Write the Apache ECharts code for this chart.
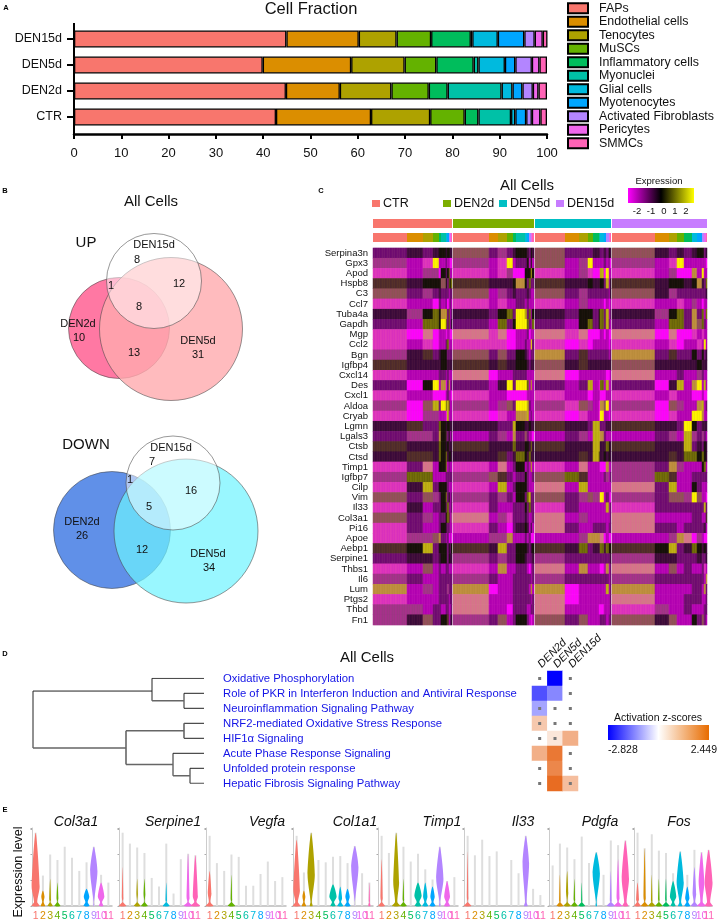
<!DOCTYPE html>
<html lang="en" style="height: 100%">

<head>
  <meta charset="utf-8">
</head>

<body style="height: 100%; margin: 0; background: #fff">
  <div id="container" style="width: 717px; height: 922px"></div>

  <script type="text/javascript" src="https://cdn.jsdelivr.net/npm/echarts@6/dist/echarts.min.js"></script>
  <script type="text/javascript">
    // panel A: cell fractions
    const conditions = ['CTR', 'DEN2d', 'DEN5d', 'DEN15d'];
    const cellTypes = ['FAPs', 'Endothelial cells', 'Tenocytes', 'MuSCs', 'Inflammatory cells', 'Myonuclei',
      'Glial cells', 'Myotenocytes', 'Activated Fibroblasts', 'Pericytes', 'SMMCs'];
    const cellColors = ['#F8766D', '#DB8E00', '#AEA200', '#64B200', '#00BD5C', '#00C1A7',
      '#00BADE', '#00A6FF', '#B385FF', '#EF67EB', '#FF63B6'];
    const conditionColors = ['#F8766D', '#7CAE00', '#00BFC4', '#C77CFF'];
    const fractionCTR = [42.7, 20.1, 12.5, 7.3, 2.9, 6.9, 0.9, 2.3, 1.2, 1.8, 1.4];
    const fractionDEN2d = [44.8, 11.4, 10.9, 7.9, 4, 11.4, 2.3, 2.1, 2.2, 1.2, 1.8];
    const fractionDEN5d = [39.9, 18.7, 11.3, 6.7, 7.9, 1, 5.6, 2.2, 3.5, 1.6, 1.6];
    const fractionDEN15d = [44.9, 15.3, 8, 7.3, 8.4, 0.3, 5.4, 5.6, 2.2, 1.7, 1];

    // panel B: venn circles, [x, y, diameter]
    const vennUp = [[119, 328, 101], [171, 329, 143], [154, 281, 95]];
    const vennDown = [[112, 530, 117], [186, 531, 144], [173, 483, 94]];

    // panel C: heatmap. one letter per cell type block, each letter is a level in heatLevels
    const heatGenes = ['Serpina3n', 'Gpx3', 'Apod', 'Hspb8', 'C3', 'Ccl7', 'Tuba4a', 'Gapdh', 'Mgp', 'Ccl2', 'Bgn',
      'Igfbp4', 'Cxcl14', 'Des', 'Cxcl1', 'Aldoa', 'Cryab', 'Lgmn', 'Lgals3', 'Ctsb', 'Ctsd', 'Timp1', 'Igfbp7',
      'Cilp', 'Vim', 'Il33', 'Col3a1', 'Pi16', 'Apoe', 'Aebp1', 'Serpine1', 'Thbs1', 'Il6', 'Lum', 'Ptgs2', 'Thbd', 'Fn1'];
    const heatLevels = ['m', 'p', 'v', 'd', 'k', 'o', 'u', 'y', 'r', 's', 'a', 'b', 'c', 't'];
    const heatShadesA = ['#F50CF0', '#B000B0', '#6E0A70', '#3A0A3A', '#141008', '#77700A', '#B8A810',
      '#FFF500', '#E03AB8', '#D8708C', '#C09040', '#964E5E', '#4E2A2C', '#A8308C'];
    const heatShadesB = ['#FF00FF', '#BC0CB4', '#7A1A72', '#4A143E', '#1E140E', '#66600A', '#C4B418',
      '#F2E800', '#D62EBE', '#D07C84', '#B88A3A', '#8A5652', '#5A3428', '#983A80'];
    const blocksCTR = [34, 16, 10, 6, 2, 5, 1, 2, 1, 1, 1];
    const blocksDEN2d = [36, 9, 9, 6, 3, 9, 2, 2, 2, 1, 2];
    const blocksDEN5d = [30, 14, 9, 5, 6, 1, 4, 2, 3, 1, 1];
    const blocksDEN15d = [43, 14, 8, 7, 8, 0, 5, 5, 2, 2, 1];
    const heatCTR = ['vdvdkkdkkdd', 'tpryppvppmm', 'rpttmkvkopp', 'cdkkkbkvoko', 'bvtvdvvvpvv', 'rppmvpvmpvp', 'dtkokauvopv',
      'vpookyovopd', 'rmsmppmppmm', 'rprmppvoppp', 'tdcvdkkvvvv', 'cddddkkdddd', 'rpppvvpvppp', 'vmkypamvupv',
      'rppmmmpvppm', 'tmbuvyouopp', 'rmttppmuppp', 'dcvvokdkkdd', 'vttvakcvkpv', 'cdddokdkddd', 'dccdokodkkd',
      'rvspkkopvpp', 'toopppvvvvv', 'rduvkkkvppp', 'bvbtvkovkpv', 'rdpvvkvovpv', 'bvtpvvkocpt', 'rvppvkdvvpp',
      'rttbavpvmpm', 'ckuvkkkvkvk', 'vddvdkkvkdd', 'rpbpvpvvppp', 'tvppvvvvvvv', 'aptpvvvtvvv', 'rpppvvvvpvv',
      'ttpvvpvvppv', 'tdbvvkkcpvd'];
    const heatDEN2d = ['bvtvdkkdvkd', 'tprypvvkpkp', 'rprtmmkkkuk', 'cdddkakvovv', 'bptvdvvdvpp', 'rprppvpvppp', 'dvkovyuvopk',
      'vpovkyyovpo', 'srsmmppvmpp', 'rrrmmpvppyv', 'bvbvvkdvpvv', 'cdcddkkdvdd', 'smppvvvpppp', 'vpdyvyyopup',
      'rppmmmmpppp', 'tptbvyyuvpp', 'rmrppaaupvp', 'ddvvukddkdd', 'pvtpavbvppm', 'cdddodkkdod', 'ddcvdokdodd',
      'rpspvkpvpup', 'tbcvpvkvppv', 'rpupvkkvppp', 'tvtvpkvouvv', 'rvppvvkvovv', 'sptrvvdvppv', 'rvpmvdkdpdp',
      'pttappvpvmm', 'cduvvkkdvdk', 'tvtvvkdvvvd', 'rpappvvpmpv', 'tvppvvvvvpv', 'amppvvvvpup', 'spppvvvvvpv',
      'sppmvvvppvv', 'tvbpvkkvpmp'];
    const heatDEN5d = ['bvvvddvdvkd', 'bptypppvpvm', 'rptrmmumypp', 'cddkddkvupd', 'bvtvvvvvvpd', 'rptppppmpmp', 'dvkkvkovupv',
      'vpkovkovuvp', 'srsmmmpmpmm', 'rmrmpppppmp', 'avcvvvvvvpv', 'bdcdddddddd', 'smppppppmmp', 'vpvupmopupp',
      'rppmppmmppp', 'trbtpmabypp', 'rmrppmyppmp', 'cddvuuvvddd', 'pvtpuuavppp', 'cddduuddokd', 'ddcduodkdkd',
      'rpspppmmapp', 'bocppppvtpv', 'spupppppppp', 'bvtbttypvpm', 'rvppppppupv', 'sptpppppppv', 'svppvvvvpvv',
      'pptaaasmpmm', 'cdovddodokk', 'tvvvvvvvvvd', 'spapppmpapv', 'tvvvvvvvvpv', 'amppppppupv', 'smppppppppv',
      'sppppmmpppv', 'bvbpppvvpvv'];
    const heatDEN15d = ['bdvdvddkkvd', 'tprypvppppm', 'rptmmmapypp', 'cdkkddkadvo', 'bdtvvvvvvvd', 'rpprpptpmpp', 'dtkovvavopo',
      'vpoovvabovp', 'smsmmmrprpp', 'rprmppprpyp', 'avcvvvkvkvd', 'bddddddkddd', 'sppvppptvpp', 'vmduppaypup',
      'rprppmmmpmm', 'tmbtpppaupv', 'rmrppmyyapp', 'cddvyvkvddd', 'pvtpuvtvtvp', 'cdddudvdvkd', 'ddcdodokokd',
      'tvatppppkop', 'tocpppvvvvv', 'svupppkvppp', 'tvbbttybppm', 'rvvvvvvvvuv', 'spppppvvppc', 'svvpvvvvvdp',
      'pptassmtpmm', 'ckuvddokdkd', 'tddvvvvdvvd', 'spbpvvppvrp', 'tvvvvvvvvpa', 'apppppvvpav', 'spppvpvvppv',
      'rtppvvpppvv', 'bdbpppkvbvp'];

    // panel D: pathways and z-scores
    const pathways = ['Oxidative Phosphorylation', 'Role of PKR in Interferon Induction and Antiviral Response',
      'Neuroinflammation Signaling Pathway', 'NRF2-mediated Oxidative Stress Response', 'HIF1α Signaling',
      'Acute Phase Response Signaling', 'Unfolded protein response', 'Hepatic Fibrosis Signaling Pathway'];
    const zDEN2d = [0, -1.94, -1.0, 0.91, 0, 1.33, 0, 0];
    const zDEN5d = [-2.828, -1.33, 0, 0, 0.42, 2.25, 2.0, 2.449];
    const zDEN15d = [0, 0, 0, 0, 1.33, 0, 0, 1.08];
    const zNoData = [[0, 0], [2, 0], [2, 1], [0, 2], [1, 2], [2, 2], [0, 3], [1, 3], [2, 3], [0, 4], [1, 4],
      [2, 5], [0, 6], [2, 6], [0, 7], [2, 7]];
    // dendrogram segments, [height, leaf, height, leaf]
    const dendroThin = [[0, 0.85, 0, 4.65], [0, 0.85, 119, 0.85], [119, 0, 119, 1.5], [119, 0, 171, 0],
      [151, 1, 151, 2], [151, 1, 171, 1], [151, 2, 171, 2], [151, 3, 171, 3], [151, 4, 171, 4], [140, 5, 171, 5],
      [157, 6, 171, 6], [157, 7, 171, 7], [140, 5, 140, 6.5], [157, 6, 157, 7]];
    const dendroThick = [[119, 1.5, 151, 1.5], [0, 4.65, 93, 4.65], [93, 3.5, 93, 5.75], [93, 3.5, 151, 3.5],
      [151, 3, 151, 4], [93, 5.75, 140, 5.75], [140, 6.5, 157, 6.5]];

    // panel E: violins, one [stem, base, bulgeY, bulgeW, bodyTop] per cluster
    const violinNames = ['1', '2', '3', '4', '5', '6', '7', '8', '9', '10', '11'];
    const col3a1 = [[.94, .55, .25, .55, .94], [.39, .3, .12, .22, .2], [.66, .35, .08, .12, .35], [.59, .4, .1, .12, .3],
      [.76, 0, 0, 0, 0], [.62, 0, 0, 0, 0], [.45, 0, 0, 0, 0], [.56, .4, .12, .38, .22], [.76, .06, .45, .5, .76],
      [.4, .3, .12, .45, .3], [.3, 0, 0, 0, 0]];
    const serpine1 = [[.94, .5, .1, .1, .5], [.8, 0, 0, 0, 0], [.75, .45, .15, .1, .35], [.68, .45, .15, .12, .35],
      [.36, 0, 0, 0, 0], [.25, 0, 0, 0, 0], [.8, .45, .07, .1, .3], [.16, 0, 0, 0, 0], [.6, 0, 0, 0, 0],
      [.67, .6, .1, .2, .67], [.65, .65, .12, .35, .65]];
    const vegfa = [[.9, .5, .16, .25, .45], [.55, 0, 0, 0, 0], [.45, 0, 0, 0, 0], [.66, .5, .08, .1, .4], [.63, 0, 0, 0, 0],
      [.26, 0, 0, 0, 0], [.26, 0, 0, 0, 0], [.41, 0, 0, 0, 0], [.57, 0, 0, 0, 0], [.32, 0, 0, 0, 0], [.37, 0, 0, 0, 0]];
    const col1a1 = [[.9, .5, .2, .45, .85], [.43, .3, .12, .2, .2], [.94, .2, .4, .5, .94], [.59, 0, 0, 0, 0], [.56, 0, 0, 0, 0],
      [.63, .35, .12, .5, .28], [.64, .4, .1, .25, .25], [.55, .4, .12, .3, .22], [.77, .02, .5, .5, .77],
      [.42, 0, 0, 0, 0], [.3, .15, .06, .08, .3]];
    const timp1 = [[.9, .45, .1, .15, .6], [.68, 0, 0, 0, 0], [.94, .55, .3, .4, .94], [.76, .45, .08, .1, .35], [.57, 0, 0, 0, 0],
      [.67, .45, .13, .5, .3], [.47, .4, .12, .3, .3], [.34, .4, .12, .3, .25], [.76, .1, .35, .5, .76],
      [.32, .4, .12, .4, .32], [.37, 0, 0, 0, 0]];
    const il33 = [[.9, .5, .1, .1, .7], [.65, 0, 0, 0, 0], [.85, 0, 0, 0, 0], [.64, 0, 0, 0, 0], [.7, 0, 0, 0, 0], [0, 0, 0, 0, 0],
      [.59, 0, 0, 0, 0], [.42, 0, 0, 0, 0], [.9, .25, .55, .45, .9], [.22, 0, 0, 0, 0], [.14, 0, 0, 0, 0]];
    const pdgfa = [[.52, 0, 0, 0, 0], [.8, .45, .06, .1, .4], [.75, .5, .17, .15, .45], [.6, .45, .08, .1, .35],
      [.89, .45, .06, .08, .3], [.55, 0, 0, 0, 0], [.69, .1, .42, .5, .69], [.4, 0, 0, 0, 0], [.84, .55, .06, .12, .45],
      [.78, .55, .1, .2, .6], [.84, .4, .35, .5, .84]];
    const fos = [[.94, .45, .08, .2, .3], [.74, .5, .1, .15, .74], [.92, .5, .06, .1, .4], [.71, .5, .08, .1, .35],
      [.68, .5, .08, .1, .35], [.42, .35, .12, .45, .32], [.7, .3, .3, .5, .7], [.4, .4, .1, .3, .25],
      [.72, .5, .15, .25, .5], [.69, .6, .3, .4, .69], [.72, .55, .3, .55, .72]];
    const violinPanels = [
      { name: 'Col3a1', rows: col3a1, left: 32, center: 76 }, { name: 'Serpine1', rows: serpine1, left: 119, center: 173 },
      { name: 'Vegfa', rows: vegfa, left: 206, center: 267 }, { name: 'Col1a1', rows: col1a1, left: 293, center: 355 },
      { name: 'Timp1', rows: timp1, left: 378, center: 442 }, { name: 'Il33', rows: il33, left: 464, center: 523 },
      { name: 'Pdgfa', rows: pdgfa, left: 549, center: 600 }, { name: 'Fos', rows: fos, left: 634, center: 679 }
    ];

    const FONT = 'Liberation Sans';
    let grid = [], xAxis = [], yAxis = [], series = [], title = [], graphic = [];

    function label(text, x, y, size, extra, rotation) {
      graphic.push({
        type: 'text', x: x, y: y, z: 100, silent: true, rotation: rotation || 0,
        style: Object.assign({
          text: text, fontFamily: FONT, fontSize: size, fill: '#111',
          align: 'center', verticalAlign: 'middle'
        }, extra || {})
      });
    }

    function addGrid(rect, x, y) {
      grid.push(Object.assign({ containLabel: false }, rect));
      xAxis.push(Object.assign({ gridIndex: grid.length - 1 }, x));
      yAxis.push(Object.assign({ gridIndex: grid.length - 1 }, y));
      return grid.length - 1;
    }

    // ---- A
    let gridA = addGrid({ left: 74, top: 26, width: 473, height: 104 }, {
      type: 'value', min: 0, max: 100, interval: 10, offset: 4, splitLine: { show: false },
      axisLine: { show: true, lineStyle: { color: '#000', width: 2.5 } },
      axisTick: { show: true, length: 5, lineStyle: { color: '#000', width: 2 } },
      axisLabel: { color: '#111', fontSize: 13, margin: 13 }
    }, {
      type: 'category', data: conditions, axisLine: { show: false },
      axisTick: { show: true, alignWithLabel: true, length: 7, lineStyle: { color: '#000', width: 2 } },
      axisLabel: { color: '#111', fontSize: 12.5, margin: 12 }
    });
    cellTypes.forEach((name, i) => {
      series.push({
        name: name, type: 'bar', stack: 'fraction', xAxisIndex: gridA, yAxisIndex: gridA, barWidth: 17,
        itemStyle: { color: cellColors[i], borderColor: '#000', borderWidth: 1.3 },
        data: [fractionCTR[i], fractionDEN2d[i], fractionDEN5d[i], fractionDEN15d[i]]
      });
    });
    graphic.push({ type: 'line', silent: true, shape: { x1: 74, y1: 23, x2: 74, y2: 135 }, style: { stroke: '#000', lineWidth: 2 } });
    label('Cell Fraction', 311, 9, 16.5);

    // ---- B
    let gridPage = addGrid({ left: 0, top: 0, width: 717, height: 922 },
      { type: 'value', min: 0, max: 717, show: false },
      { type: 'value', min: 0, max: 922, inverse: true, show: false });
    function venn(circles, colors) {
      series.push({
        type: 'scatter', xAxisIndex: gridPage, yAxisIndex: gridPage, silent: true,
        data: circles.map((c, i) => ({
          value: [c[0], c[1]], symbolSize: c[2],
          itemStyle: { color: colors[i], borderColor: 'rgba(70,70,70,0.8)', borderWidth: 0.7, opacity: 1 }
        }))
      });
    }
    venn(vennUp, ['#FF78A3', 'rgba(255,170,174,0.8)', 'rgba(255,255,255,0.5)']);
    venn(vennDown, ['#6090E8', 'rgba(109,243,255,0.7)', 'rgba(255,255,255,0.5)']);
    label('All Cells', 151, 202, 15);
    label('UP', 86, 243, 15);
    label('DOWN', 86, 445, 15);
    [['DEN15d', 154, 245], ['8', 137, 260], ['1', 111, 286], ['12', 179, 284], ['8', 139, 307], ['DEN2d', 78, 324], ['10', 79, 338],
      ['13', 134, 353], ['DEN5d', 198, 341], ['31', 198, 355], ['DEN15d', 171, 448], ['7', 152, 462], ['1', 130, 480], ['16', 191, 491],
      ['5', 149, 507], ['DEN2d', 82, 522], ['26', 82, 536], ['12', 142, 550], ['DEN5d', 208, 554], ['34', 209, 568]]
      .forEach(t => label(t[0], t[1], t[2], 11));

    // ---- C
    const blockSets = [blocksCTR, blocksDEN2d, blocksDEN5d, blocksDEN15d];
    const heatSets = [heatCTR, heatDEN2d, heatDEN5d, heatDEN15d];
    const shadeOrder = [0, 1, 0, 0, 1];
    let heatData = [], heatColumns = [];
    let heatPieces = [];
    heatLevels.forEach((l, i) => {
      heatPieces.push({ value: i * 2, color: heatShadesA[i] }, { value: i * 2 + 1, color: heatShadesB[i] });
    });
    heatGenes.forEach((gene, row) => {
      let col = 0;
      heatSets.forEach((set, s) => {
        blockSets[s].forEach((width, b) => {
          let level = heatLevels.indexOf(set[row].charAt(b));
          for (let n = 0; n < width; n++) {
            heatData.push([col, row, level * 2 + shadeOrder[col % 5]]);
            col++;
          }
        });
        col++; // white gap between conditions
      });
      heatColumns = Array.from({ length: col - 1 }, (v, i) => String(i));
    });
    let gridHeat = addGrid({ left: 373, top: 248, width: 334, height: 377 },
      { type: 'category', data: heatColumns, show: false },
      {
        type: 'category', data: heatGenes, inverse: true, axisLine: { show: false }, axisTick: { show: false },
        axisLabel: { interval: 0, fontSize: 9.5, color: '#111', margin: 5 }
      });
    series.push({
      type: 'heatmap', xAxisIndex: gridHeat, yAxisIndex: gridHeat, data: heatData,
      progressive: 0, silent: true, emphasis: { disabled: true }
    });
    let heatSeriesIndex = series.length - 1;

    // annotation strips above the heatmap
    function strip(top, pieces) {
      let g = addGrid({ left: 373, top: top, width: 334, height: 9 },
        { type: 'value', min: 0, max: 334, show: false },
        { type: 'category', data: ['a'], show: false });
      pieces.forEach(p => {
        series.push({
          type: 'bar', stack: 'strip' + g, xAxisIndex: g, yAxisIndex: g, barWidth: '100%', silent: true,
          itemStyle: { color: p[1] }, data: [p[0]]
        });
      });
    }
    let conditionPieces = [], cellPieces = [];
    blockSets.forEach((blocks, s) => {
      conditionPieces.push([blocks.reduce((a, b) => a + b, 0), conditionColors[s]], [1, 'rgba(0,0,0,0)']);
      blocks.forEach((w, b) => cellPieces.push([w, cellColors[b]]));
      cellPieces.push([1, 'rgba(0,0,0,0)']);
    });
    strip(219, conditionPieces);
    strip(233, cellPieces);

    label('All Cells', 527, 186, 15);
    [[372, 'CTR', 0], [443, 'DEN2d', 1], [499, 'DEN5d', 2], [556, 'DEN15d', 3]].forEach(c => {
      graphic.push({ type: 'rect', silent: true, shape: { x: c[0], y: 200, width: 8, height: 7 }, style: { fill: conditionColors[c[2]] } });
      label(c[1], c[0] + 11, 203.5, 12.5, { align: 'left' });
    });
    label('Expression', 659, 181, 9.5);
    graphic.push({
      type: 'rect', silent: true, shape: { x: 628, y: 188, width: 66, height: 15 },
      style: {
        fill: new echarts.graphic.LinearGradient(0, 0, 1, 0, [
          { offset: 0, color: '#ff00ff' }, { offset: 0.5, color: '#000' }, { offset: 1, color: '#ffff00' }])
      }
    });
    [['-2', 637], ['-1', 651], ['0', 664], ['1', 675], ['2', 686]].forEach(t => label(t[0], t[1], 211, 9.5));

    // ---- D
    let gridDendro = addGrid({ left: 33, top: 678.3, width: 171, height: 105 },
      { type: 'value', min: 0, max: 171, show: false },
      { type: 'value', min: 0, max: 7, inverse: true, show: false });
    function dendroSeries(segments, color, width) {
      let pts = [];
      segments.forEach(s => pts.push([s[0], s[1]], [s[2], s[3]], ['-', '-']));
      series.push({
        type: 'line', xAxisIndex: gridDendro, yAxisIndex: gridDendro, data: pts, symbol: 'none', silent: true,
        connectNulls: false, lineStyle: { color: color, width: width }
      });
    }
    dendroSeries(dendroThin, '#222', 1);
    dendroSeries(dendroThick, '#666', 1.6);

    let gridZ = addGrid({ left: 532, top: 671, width: 46, height: 120 }, {
      type: 'category', position: 'top', data: ['DEN2d', 'DEN5d', 'DEN15d'], axisLine: { show: false }, axisTick: { show: false },
      axisLabel: { interval: 0, rotate: -45, align: 'left', verticalAlign: 'middle', fontStyle: 'italic', fontSize: 11, color: '#111', margin: 5 }
    }, {
      type: 'category', data: pathways, inverse: true, axisLine: { show: false }, axisTick: { show: false },
      axisLabel: { interval: 0, align: 'left', margin: 309, fontSize: 11.3, color: '#1414e6' }
    });
    let zData = [];
    [zDEN2d, zDEN5d, zDEN15d].forEach((col, c) => col.forEach((v, r) => zData.push([c, r, v])));
    series.push({ type: 'heatmap', xAxisIndex: gridZ, yAxisIndex: gridZ, data: zData, silent: true, emphasis: { disabled: true } });
    let zSeriesIndex = series.length - 1;
    series.push({
      type: 'scatter', xAxisIndex: gridZ, yAxisIndex: gridZ, data: zNoData, symbol: 'rect', symbolSize: 3, silent: true,
      itemStyle: { color: '#777', opacity: 1 }, z: 5
    });

    label('All Cells', 367, 658, 15);
    label('Activation z-scores', 658, 718, 10.5);
    graphic.push({
      type: 'rect', silent: true, shape: { x: 608, y: 725, width: 101, height: 15 },
      style: {
        fill: new echarts.graphic.LinearGradient(0, 0, 1, 0, [
          { offset: 0, color: '#0000ff' }, { offset: 0.5, color: '#fff' }, { offset: 1, color: '#E86C00' }])
      }
    });
    label('-2.828', 608, 750, 10.5, { align: 'left' });
    label('2.449', 717, 750, 10.5, { align: 'right' });

    // ---- E
    function renderViolin(params, api) {
      let i = api.value(0), stem = api.value(1), base = api.value(2);
      let bulgeY = api.value(3), bulgeW = api.value(4), bodyTop = api.value(5);
      let p0 = api.coord([i, 0]);
      let band = api.size([1, 0])[0];
      let yAt = v => api.coord([i, v])[1];
      let children = [{
        type: 'line', shape: { x1: p0[0], y1: p0[1], x2: p0[0], y2: yAt(stem) },
        style: { stroke: '#dedede', lineWidth: 2 }
      }];
      if (bodyTop > 0) {
        let neck = Math.min(bulgeW, base) * 0.4;
        let side = [[base, 0], [neck, 0.05], [bulgeW, bulgeY], [0, bodyTop]];
        let pts = side.map(s => [p0[0] - s[0] * band, yAt(s[1])])
          .concat(side.slice(0, 3).reverse().map(s => [p0[0] + s[0] * band, yAt(s[1])]));
        children.push({ type: 'polygon', shape: { points: pts, smooth: 0.25 }, style: { fill: cellColors[i] } });
      }
      return { type: 'group', children: children };
    }
    violinPanels.forEach(panel => {
      let g = addGrid({ left: panel.left, top: 828, width: 80, height: 80 }, {
        type: 'category', data: violinNames, axisLine: { lineStyle: { color: '#bbb', width: 1.5 } }, axisTick: { show: false },
        axisLabel: { interval: 0, hideOverlap: false, fontSize: 10.5, margin: 5, color: (v, idx) => cellColors[idx] }
      }, {
        type: 'value', min: 0, max: 1, interval: 0.33, splitLine: { show: false },
        axisLine: { show: true, lineStyle: { color: '#ccc', width: 1 } },
        axisTick: { show: true, length: 1.5, lineStyle: { color: '#aaa' } }, axisLabel: { show: false }
      });
      series.push({
        type: 'custom', xAxisIndex: g, yAxisIndex: g, renderItem: renderViolin, silent: true, clip: false,
        data: panel.rows.map((r, i) => [i].concat(r))
      });
      title.push({
        text: panel.name, left: panel.center, top: 815, textAlign: 'center', padding: 0,
        textStyle: { fontFamily: FONT, fontStyle: 'italic', fontWeight: 'normal', fontSize: 14, color: '#111' }
      });
    });
    label('Expression level', 19, 872, 12.5, null, Math.PI / 2);

    // panel letters
    [['A', 6, 8], ['B', 5, 191], ['C', 321, 191], ['D', 5, 654], ['E', 5, 810]].forEach(t => {
      label(t[0], t[1], t[2], 7.5, { fontWeight: 'bold', fill: '#000' });
    });

    var myChart = echarts.init(document.getElementById('container'), null, { renderer: 'canvas' });
    var option = {
      animation: false,
      textStyle: { fontFamily: FONT },
      title: title,
      legend: {
        data: cellTypes.map(n => ({ name: n, icon: 'rect' })), orient: 'vertical', left: 567, top: 1.5,
        itemWidth: 20, itemHeight: 10, itemGap: 0, selectedMode: false, padding: 0,
        textStyle: { fontFamily: FONT, fontSize: 12.4, lineHeight: 13.5, color: '#111', padding: [0, 0, 0, 6] }
      },
      visualMap: [
        {
          show: false, type: 'piecewise', seriesIndex: heatSeriesIndex, dimension: 2, pieces: heatPieces
        },
        {
          show: false, type: 'continuous', min: -2.828, max: 2.828, seriesIndex: zSeriesIndex, dimension: 2,
          inRange: { color: ['#0000ff', '#ffffff', '#E45500'] }
        }
      ],
      grid: grid,
      xAxis: xAxis,
      yAxis: yAxis,
      series: series,
      graphic: graphic
    };
    myChart.setOption(option);
  </script>
</body>

</html>
